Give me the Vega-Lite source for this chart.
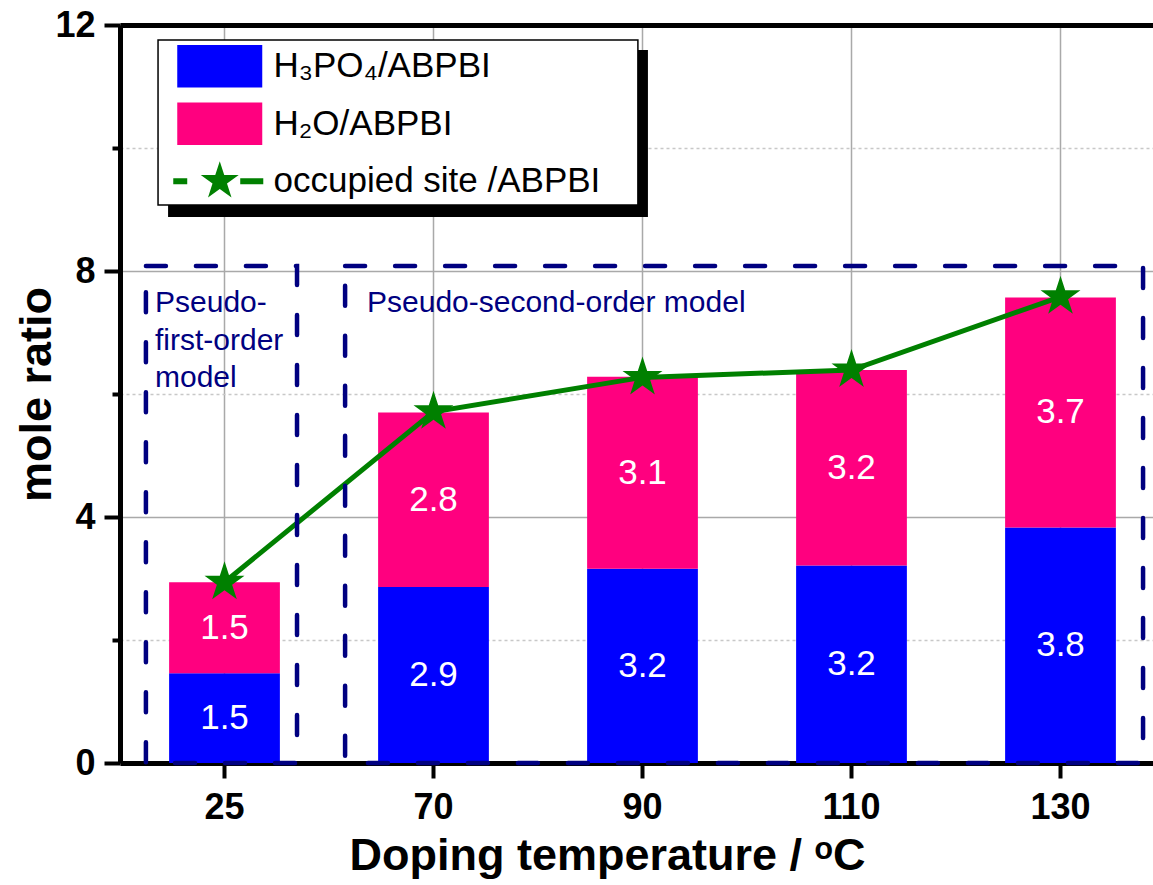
{
  "$schema": "https://vega.github.io/schema/vega-lite/v6.json",
  "width": 1033,
  "height": 738,
  "autosize": {"type": "none"},
  "padding": {"left": 120, "top": 25, "right": 0, "bottom": 122},
  "config": {"font": "Liberation Sans", "view": {"stroke": null}},
  "datasets": {
    "bars": [
      {"temp": "25", "species": "H₃PO₄/ABPBI", "value": 1.46},
      {"temp": "25", "species": "H₂O/ABPBI", "value": 1.48},
      {"temp": "70", "species": "H₃PO₄/ABPBI", "value": 2.86},
      {"temp": "70", "species": "H₂O/ABPBI", "value": 2.84},
      {"temp": "90", "species": "H₃PO₄/ABPBI", "value": 3.16},
      {"temp": "90", "species": "H₂O/ABPBI", "value": 3.12},
      {"temp": "110", "species": "H₃PO₄/ABPBI", "value": 3.21},
      {"temp": "110", "species": "H₂O/ABPBI", "value": 3.18},
      {"temp": "130", "species": "H₃PO₄/ABPBI", "value": 3.83},
      {"temp": "130", "species": "H₂O/ABPBI", "value": 3.74}
    ],
    "sites": [
      {"temp": "25", "site": 2.94},
      {"temp": "70", "site": 5.71},
      {"temp": "90", "site": 6.27},
      {"temp": "110", "site": 6.39},
      {"temp": "130", "site": 7.58}
    ]
  },
  "layer": [
    {
      "encoding": {
        "x": {
          "field": "temp", "type": "nominal",
          "sort": ["25", "70", "90", "110", "130"],
          "scale": {"paddingInner": 0.47, "paddingOuter": 0.235, "range": [0, 1045]},
          "axis": {
            "orient": "bottom", "labelAngle": 0,
            "labelFontSize": 36, "labelFontWeight": "bold", "labelColor": "black", "labelPadding": 12,
            "tickSize": 15, "tickWidth": 4, "tickColor": "black",
            "domainWidth": 5, "domainColor": "black",
            "grid": true, "gridColor": "#a9a9a9", "gridWidth": 1.5,
            "title": "Doping temperature / ᵒC", "titleFontSize": 45, "titleFontWeight": "bold",
            "titleColor": "black", "titlePadding": 8, "titleX": 487
          }
        },
        "y": {
          "field": "yv", "type": "quantitative",
          "scale": {"domain": [0, 12]},
          "axis": {
            "orient": "left", "values": [0, 4, 8, 12],
            "labelFontSize": 36, "labelFontWeight": "bold", "labelColor": "black", "labelPadding": 9,
            "tickSize": 16, "tickWidth": 4, "tickColor": "black",
            "domainWidth": 5, "domainColor": "black",
            "grid": true, "gridColor": "#a9a9a9", "gridWidth": 1.5,
            "title": "mole ratio", "titleFontSize": 45, "titleFontWeight": "bold",
            "titleColor": "black", "titleX": -61, "titleY": 369
          }
        }
      },
      "layer": [
        {
          "data": {"name": "bars"},
          "mark": {"type": "bar"},
          "encoding": {
            "y": {"field": "value", "type": "quantitative", "stack": "zero"},
            "color": {
              "field": "species", "type": "nominal",
              "scale": {
                "domain": ["H₃PO₄/ABPBI", "H₂O/ABPBI", "occupied site /ABPBI"],
                "range": ["#0000FF", "#FF007F", "#008000"]
              },
              "legend": {
                "title": null, "orient": "none", "legendX": 70.75, "legendY": 12.25,
                "padding": 0, "symbolSize": 3306.25, "rowPadding": 6.5,
                "labelFontSize": 35, "labelColor": "black", "labelOffset": 24.75, "labelLimit": 700,
                "zindex": 1,
                "encode": {
                  "symbols": {
                    "update": {
                      "shape": {"signal": "datum.value === 'occupied site /ABPBI' ? 'M-1.617,-0.1035H-1.131V0.1035H-1.617ZM0.7125,-0.1035H1.514V0.1035H0.7125ZM0,-0.6948L0.156,-0.2146L0.6608,-0.2146L0.2525,0.082L0.4085,0.562L0,0.2654L-0.4085,0.562L-0.2525,0.082L-0.6608,-0.2146L-0.156,-0.2146Z' : 'M-1.4783,-0.7391H1.4783V0.7391H-1.4783Z'"},
                      "fill": {"scale": "color", "field": "value"},
                      "stroke": {"value": "transparent"},
                      "strokeWidth": {"value": 0},
                      "opacity": {"value": 1}
                    }
                  }
                }
              }
            },
            "order": {"field": "species", "sort": "descending"}
          }
        },
        {
          "data": {"name": "bars"},
          "mark": {"type": "text", "fill": "white", "fontSize": 35, "baseline": "middle", "align": "center"},
          "encoding": {
            "y": {"field": "value", "type": "quantitative", "stack": "zero", "bandPosition": 0.5},
            "detail": {"field": "species"},
            "order": {"field": "species", "sort": "descending"},
            "text": {"field": "value", "type": "quantitative", "format": ".1f"}
          }
        },
        {
          "data": {"name": "sites"},
          "mark": {"type": "line", "strokeWidth": 5},
          "encoding": {
            "y": {"field": "site", "type": "quantitative"},
            "color": {"datum": "occupied site /ABPBI"}
          }
        },
        {
          "data": {"name": "sites"},
          "mark": {
            "type": "point", "filled": true, "fill": "#008000", "opacity": 1, "strokeWidth": 0, "size": 1764,
            "shape": "M0,-1L0.2245,-0.309L0.9511,-0.309L0.3633,0.118L0.5878,0.809L0,0.382L-0.5878,0.809L-0.3633,0.118L-0.9511,-0.309L-0.2245,-0.309Z"
          },
          "encoding": {
            "y": {"field": "site", "type": "quantitative"}
          }
        }
      ]
    },
    {
      "data": {"values": [{}]},
      "encoding": {
        "x": {
          "datum": 0, "type": "quantitative",
          "scale": {"domain": [-0.5, 4.5], "range": [0, 1045]},
          "axis": {"orient": "top", "domain": true, "domainColor": "black", "domainWidth": 5,
                   "ticks": false, "labels": false, "grid": false, "title": null}
        },
        "y": {
          "datum": 0, "type": "quantitative",
          "scale": {"domain": [0, 12]},
          "axis": {"orient": "left", "values": [2, 6, 10], "labels": false,
                   "ticks": true, "tickSize": 8, "tickWidth": 4, "tickColor": "black",
                   "domain": false, "grid": true, "gridColor": "#c8c8c8", "gridDash": [3, 3],
                   "gridWidth": 1.5, "title": null}
        }
      },
      "layer": [
        {
          "mark": {"type": "rect", "fill": "black"},
          "encoding": {
            "x": {"datum": -0.27, "type": "quantitative"},
            "x2": {"datum": 2.026},
            "y": {"datum": 11.593, "type": "quantitative"},
            "y2": {"datum": 8.878}
          }
        },
        {
          "mark": {"type": "rect", "fill": "white", "stroke": "black", "strokeWidth": 1.5},
          "encoding": {
            "x": {"datum": -0.318, "type": "quantitative"},
            "x2": {"datum": 1.978},
            "y": {"datum": 11.756, "type": "quantitative"},
            "y2": {"datum": 9.073}
          }
        },
        {
          "mark": {"type": "rect", "fill": "transparent", "stroke": "#000080", "strokeWidth": 4.5,
                   "strokeDash": [20, 30], "strokeCap": "round"},
          "encoding": {
            "x": {"datum": -0.376, "type": "quantitative"},
            "x2": {"datum": 0.347},
            "y": {"datum": 8.08, "type": "quantitative"},
            "y2": {"datum": 0}
          }
        },
        {
          "mark": {"type": "rect", "fill": "transparent", "stroke": "#000080", "strokeWidth": 4.5,
                   "strokeDash": [20, 30], "strokeCap": "round"},
          "encoding": {
            "x": {"datum": 0.577, "type": "quantitative"},
            "x2": {"datum": 4.395},
            "y": {"datum": 8.08, "type": "quantitative"},
            "y2": {"datum": 0}
          }
        },
        {
          "mark": {"type": "text", "text": ["Pseudo-", "first-order", "model"], "align": "left",
                   "baseline": "alphabetic", "fontSize": 30, "lineHeight": 37.5, "fill": "#000080"},
          "encoding": {
            "x": {"datum": -0.3325, "type": "quantitative"},
            "y": {"datum": 7.333, "type": "quantitative"}
          }
        },
        {
          "mark": {"type": "text", "text": "Pseudo-second-order model", "align": "left",
                   "baseline": "alphabetic", "fontSize": 30, "fill": "#000080"},
          "encoding": {
            "x": {"datum": 0.6818, "type": "quantitative"},
            "y": {"datum": 7.333, "type": "quantitative"}
          }
        }
      ]
    }
  ],
  "resolve": {"scale": {"x": "independent"}, "axis": {"x": "independent", "y": "independent"}}
}
